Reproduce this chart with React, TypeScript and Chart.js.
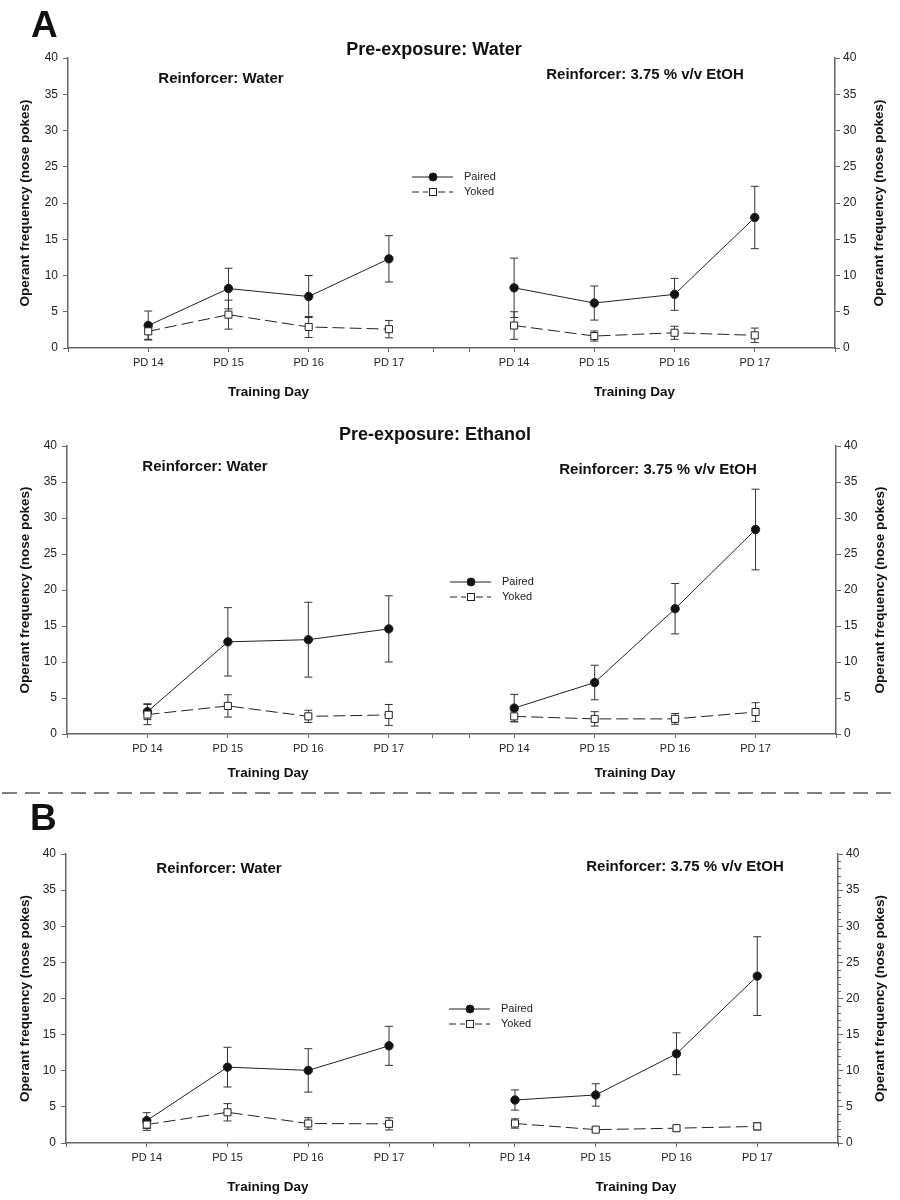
import React, { useEffect, useRef } from 'react';
import { Chart, registerables } from 'chart.js';

Chart.register(...registerables);

const FONT = '"Liberation Sans", Arial, Helvetica, sans-serif';

// ---------- text ----------
const trainingDays = ['PD 14', 'PD 15', 'PD 16', 'PD 17'];
const seriesNames = ['Paired', 'Yoked'];
const yAxisTitle = 'Operant frequency (nose pokes)';
const xAxisTitle = 'Training Day';
const reinforcerWater = 'Reinforcer: Water';
const reinforcerEtoh = 'Reinforcer: 3.75 % v/v EtOH';
const titleA1 = 'Pre-exposure: Water';
const titleA2 = 'Pre-exposure: Ethanol';

// ---------- data (mean, SEM) ----------
// A, Pre-exposure: Water
const a1WaterPaired = [3.1, 8.2, 7.1, 12.3];
const a1WaterPairedErr = [2.0, 2.8, 2.9, 3.2];
const a1WaterYoked = [2.3, 4.6, 2.9, 2.6];
const a1WaterYokedErr = [1.1, 2.0, 1.45, 1.2];
const a1EtohPaired = [8.3, 6.2, 7.4, 18.0];
const a1EtohPairedErr = [4.1, 2.35, 2.2, 4.3];
const a1EtohYoked = [3.1, 1.65, 2.1, 1.75];
const a1EtohYokedErr = [1.9, 0.7, 0.9, 1.0];

// A, Pre-exposure: Ethanol
const a2WaterPaired = [3.1, 12.8, 13.1, 14.6];
const a2WaterPairedErr = [1.1, 4.75, 5.2, 4.6];
const a2WaterYoked = [2.7, 3.9, 2.45, 2.65];
const a2WaterYokedErr = [1.4, 1.55, 0.85, 1.45];
const a2EtohPaired = [3.6, 7.15, 17.4, 28.4];
const a2EtohPairedErr = [1.9, 2.4, 3.5, 5.6];
const a2EtohYoked = [2.45, 2.1, 2.1, 3.05];
const a2EtohYokedErr = [0.75, 1.0, 0.75, 1.3];

// B
const bWaterPaired = [3.1, 10.5, 10.05, 13.45];
const bWaterPairedErr = [1.1, 2.75, 3.0, 2.7];
const bWaterYoked = [2.55, 4.25, 2.7, 2.65];
const bWaterYokedErr = [0.8, 1.2, 0.8, 0.85];
const bEtohPaired = [5.95, 6.65, 12.35, 23.1];
const bEtohPairedErr = [1.4, 1.55, 2.9, 5.45];
const bEtohYoked = [2.7, 1.85, 2.05, 2.3];
const bEtohYokedErr = [0.65, 0.3, 0.35, 0.5];

// ---------- axis layout (in x-scale units) ----------
const RIGHT_OFFSET = 4.56;
const X_MAX = 9.56;
const leftX = trainingDays.map((_, i) => i + 1);
const rightX = trainingDays.map((_, i) => i + 1 + RIGHT_OFFSET);
const xTickValues = [0, ...leftX, 4.55, 5.0, ...rightX, X_MAX];

type Series = { paired: number[]; pairedErr: number[]; yoked: number[]; yokedErr: number[] };
type PanelCfg = {
  top: number; height: number; axisL: number; axisR: number; y40: number; y0: number;
  letter?: { text: string; x: number; y: number };
  title?: { text: string; x: number; y: number };
  subL: { x: number; y: number }; subR: { x: number; y: number };
  legend: { x: number; y1: number; y2: number };
  xTitleY: number; yTitleLX: number; yTitleRX: number;
  minorRight?: boolean; separatorY?: number;
  water: Series; etoh: Series;
};

const panels: PanelCfg[] = [
  {
    top: 0, height: 405, axisL: 68, axisR: 835, y40: 58, y0: 348,
    letter: { text: 'A', x: 31, y: 37 },
    title: { text: titleA1, x: 434, y: 50 },
    subL: { x: 221, y: 79 }, subR: { x: 645, y: 75 },
    legend: { x: 433, y1: 177, y2: 192 },
    xTitleY: 392, yTitleLX: 25, yTitleRX: 879,
    water: { paired: a1WaterPaired, pairedErr: a1WaterPairedErr, yoked: a1WaterYoked, yokedErr: a1WaterYokedErr },
    etoh: { paired: a1EtohPaired, pairedErr: a1EtohPairedErr, yoked: a1EtohYoked, yokedErr: a1EtohYokedErr },
  },
  {
    top: 405, height: 395, axisL: 67, axisR: 836, y40: 446, y0: 734,
    title: { text: titleA2, x: 435, y: 435 },
    subL: { x: 205, y: 467 }, subR: { x: 658, y: 470 },
    legend: { x: 471, y1: 582, y2: 597 },
    xTitleY: 773, yTitleLX: 25, yTitleRX: 880,
    separatorY: 793,
    water: { paired: a2WaterPaired, pairedErr: a2WaterPairedErr, yoked: a2WaterYoked, yokedErr: a2WaterYokedErr },
    etoh: { paired: a2EtohPaired, pairedErr: a2EtohPairedErr, yoked: a2EtohYoked, yokedErr: a2EtohYokedErr },
  },
  {
    top: 800, height: 400, axisL: 66, axisR: 838, y40: 854, y0: 1143,
    letter: { text: 'B', x: 30, y: 830 },
    subL: { x: 219, y: 869 }, subR: { x: 685, y: 867 },
    legend: { x: 470, y1: 1009, y2: 1024 },
    xTitleY: 1187, yTitleLX: 25, yTitleRX: 880,
    minorRight: true,
    water: { paired: bWaterPaired, pairedErr: bWaterPairedErr, yoked: bWaterYoked, yokedErr: bWaterYokedErr },
    etoh: { paired: bEtohPaired, pairedErr: bEtohPairedErr, yoked: bEtohYoked, yokedErr: bEtohYokedErr },
  },
];

const LINE = '#222';
const AXIS = '#666';

function makeDataset(xs: number[], ys: number[], kind: 'paired' | 'yoked') {
  return {
    label: kind === 'paired' ? seriesNames[0] : seriesNames[1],
    data: xs.map((x, i) => ({ x, y: ys[i] })),
    borderColor: LINE,
    borderWidth: 1,
    borderDash: kind === 'yoked' ? [12, 5] : [],
    pointStyle: kind === 'paired' ? 'circle' : 'rect',
    pointRadius: kind === 'paired' ? 4.2 : 5,
    pointBackgroundColor: kind === 'paired' ? '#111' : '#fff',
    pointBorderColor: LINE,
    pointBorderWidth: 1,
    tension: 0,
    fill: false,
    yAxisID: 'y',
  };
}

function text(ctx: CanvasRenderingContext2D, s: string, x: number, y: number, font: string,
  align: CanvasTextAlign = 'center', baseline: CanvasTextBaseline = 'middle', color = '#111') {
  ctx.save();
  ctx.font = font;
  ctx.fillStyle = color;
  ctx.textAlign = align;
  ctx.textBaseline = baseline;
  ctx.fillText(s, x, y);
  ctx.restore();
}

function makeOverlay(cfg: PanelCfg, errs: number[][]) {
  const T = cfg.top;
  return {
    id: 'overlay',
    beforeDatasetsDraw(chart: any) {
      const ctx: CanvasRenderingContext2D = chart.ctx;
      const ys = chart.scales.y;
      ctx.save();
      ctx.strokeStyle = '#333';
      ctx.lineWidth = 1;
      chart.data.datasets.forEach((ds: any, di: number) => {
        const meta = chart.getDatasetMeta(di);
        ds.data.forEach((p: any, j: number) => {
          const e = errs[di][j];
          const x = meta.data[j].x;
          const yt = ys.getPixelForValue(p.y + e);
          const yb = ys.getPixelForValue(Math.max(0, p.y - e));
          ctx.beginPath();
          ctx.moveTo(x, yt); ctx.lineTo(x, yb);
          ctx.moveTo(x - 4, yt); ctx.lineTo(x + 4, yt);
          ctx.moveTo(x - 4, yb); ctx.lineTo(x + 4, yb);
          ctx.stroke();
        });
      });
      ctx.restore();
    },
    afterDraw(chart: any) {
      const ctx: CanvasRenderingContext2D = chart.ctx;
      const xs = chart.scales.x;
      const ys = chart.scales.y;
      const bold = (n: number) => `bold ${n}px ${FONT}`;
      const reg = (n: number) => `${n}px ${FONT}`;

      if (cfg.letter) text(ctx, cfg.letter.text, cfg.letter.x, cfg.letter.y - T, bold(37), 'left', 'alphabetic', '#111');
      if (cfg.title) text(ctx, cfg.title.text, cfg.title.x, cfg.title.y - T, bold(18));
      text(ctx, reinforcerWater, cfg.subL.x, cfg.subL.y - T, bold(15));
      text(ctx, reinforcerEtoh, cfg.subR.x, cfg.subR.y - T, bold(15));

      // x titles centred on each half's data range
      const lc = (xs.getPixelForValue(leftX[0]) + xs.getPixelForValue(leftX[leftX.length - 1])) / 2;
      const rc = (xs.getPixelForValue(rightX[0]) + xs.getPixelForValue(rightX[rightX.length - 1])) / 2;
      text(ctx, xAxisTitle, lc, cfg.xTitleY - T, bold(13.5));
      text(ctx, xAxisTitle, rc, cfg.xTitleY - T, bold(13.5));

      // y titles (both read bottom-to-top)
      const cy = (chart.chartArea.top + chart.chartArea.bottom) / 2;
      [cfg.yTitleLX, cfg.yTitleRX].forEach((x) => {
        ctx.save();
        ctx.translate(x, cy);
        ctx.rotate(-Math.PI / 2);
        text(ctx, yAxisTitle, 0, 0, bold(13.5));
        ctx.restore();
      });

      // minor ticks on right axis
      if (cfg.minorRight) {
        ctx.save();
        ctx.strokeStyle = AXIS;
        ctx.lineWidth = 1;
        ctx.beginPath();
        for (let v = 0; v <= 40; v++) {
          if (v % 5 === 0) continue;
          const py = Math.round(ys.getPixelForValue(v)) + 0.5;
          ctx.moveTo(cfg.axisR, py);
          ctx.lineTo(cfg.axisR + 3, py);
        }
        ctx.stroke();
        ctx.restore();
      }

      // legend
      const L = cfg.legend;
      ctx.save();
      ctx.strokeStyle = LINE;
      ctx.lineWidth = 1;
      ctx.beginPath();
      ctx.moveTo(L.x - 21, L.y1 - T); ctx.lineTo(L.x + 20, L.y1 - T);
      ctx.stroke();
      ctx.setLineDash([7, 4]);
      ctx.beginPath();
      ctx.moveTo(L.x - 21, L.y2 - T); ctx.lineTo(L.x - 5, L.y2 - T);
      ctx.moveTo(L.x + 5, L.y2 - T); ctx.lineTo(L.x + 20, L.y2 - T);
      ctx.stroke();
      ctx.setLineDash([]);
      ctx.fillStyle = '#111';
      ctx.beginPath();
      ctx.arc(L.x, L.y1 - T, 4, 0, Math.PI * 2);
      ctx.fill();
      ctx.stroke();
      ctx.fillStyle = '#fff';
      ctx.fillRect(L.x - 3.5, L.y2 - T - 3.5, 7, 7);
      ctx.strokeRect(L.x - 3.5, L.y2 - T - 3.5, 7, 7);
      ctx.restore();
      text(ctx, seriesNames[0], L.x + 31, L.y1 - T, reg(11), 'left', 'middle', '#222');
      text(ctx, seriesNames[1], L.x + 31, L.y2 - T, reg(11), 'left', 'middle', '#222');

      // separator between A and B
      if (cfg.separatorY !== undefined) {
        ctx.save();
        ctx.strokeStyle = '#555';
        ctx.lineWidth = 1.5;
        ctx.setLineDash([15, 8]);
        ctx.beginPath();
        ctx.moveTo(2, cfg.separatorY - T);
        ctx.lineTo(894, cfg.separatorY - T);
        ctx.stroke();
        ctx.restore();
      }
    },
  };
}

function labelFor(v: number): string {
  for (let i = 0; i < trainingDays.length; i++) {
    if (Math.abs(v - leftX[i]) < 1e-6 || Math.abs(v - rightX[i]) < 1e-6) return trainingDays[i];
  }
  return '';
}

function Panel({ cfg }: { cfg: PanelCfg }) {
  const ref = useRef<HTMLCanvasElement | null>(null);
  useEffect(() => {
    if (!ref.current) return;
    const datasets = [
      makeDataset(leftX, cfg.water.yoked, 'yoked'),
      makeDataset(rightX, cfg.etoh.yoked, 'yoked'),
      makeDataset(leftX, cfg.water.paired, 'paired'),
      makeDataset(rightX, cfg.etoh.paired, 'paired'),
    ];
    const errs = [cfg.water.yokedErr, cfg.etoh.yokedErr, cfg.water.pairedErr, cfg.etoh.pairedErr];
    const xH = cfg.top + cfg.height - cfg.y0;
    const tickFont = { family: FONT, size: 12 };
    const chart = new Chart(ref.current, {
      type: 'line',
      data: { datasets: datasets as any },
      options: {
        responsive: false,
        animation: false,
        devicePixelRatio: 1,
        layout: { padding: { top: cfg.y40 - cfg.top, left: 0, right: 0, bottom: 0 } },
        plugins: { legend: { display: false }, tooltip: { enabled: false }, title: { display: false } },
        scales: {
          x: {
            type: 'linear', position: 'bottom', min: 0, max: X_MAX,
            afterBuildTicks: (s: any) => { s.ticks = xTickValues.map((v) => ({ value: v })); },
            afterFit: (s: any) => { s.height = xH; },
            ticks: {
              callback: (v: any) => labelFor(Number(v)),
              autoSkip: false, maxRotation: 0, minRotation: 0, padding: 4,
              color: '#222', font: { family: FONT, size: 11 },
            },
            grid: { drawOnChartArea: false, drawTicks: true, tickLength: 4, color: AXIS, lineWidth: 1 },
            border: { display: true, color: AXIS, width: 1.5 },
          },
          y: {
            type: 'linear', position: 'left', min: 0, max: 40,
            afterFit: (s: any) => { s.width = cfg.axisL; },
            ticks: { stepSize: 5, padding: 5, color: '#222', font: tickFont },
            grid: { drawOnChartArea: false, drawTicks: true, tickLength: 5, color: AXIS, lineWidth: 1 },
            border: { display: true, color: AXIS, width: 1.5 },
          },
          y2: {
            type: 'linear', position: 'right', min: 0, max: 40,
            afterFit: (s: any) => { s.width = 900 - cfg.axisR; },
            ticks: { stepSize: 5, padding: 3, color: '#222', font: tickFont },
            grid: { drawOnChartArea: false, drawTicks: true, tickLength: 5, color: AXIS, lineWidth: 1 },
            border: { display: true, color: AXIS, width: 1.5 },
          },
        },
      } as any,
      plugins: [makeOverlay(cfg, errs)],
    });
    return () => chart.destroy();
  }, [cfg]);
  return (
    <div style={{ position: 'absolute', left: 0, top: cfg.top, width: 900, height: cfg.height }}>
      <canvas ref={ref} width={900} height={cfg.height} style={{ width: 900, height: cfg.height, display: 'block' }} />
    </div>
  );
}

export default function App() {
  return (
    <div style={{ position: 'absolute', left: 0, top: 0, width: 900, height: 1200, background: '#fff' }}>
      {panels.map((p, i) => <Panel key={i} cfg={p} />)}
    </div>
  );
}
